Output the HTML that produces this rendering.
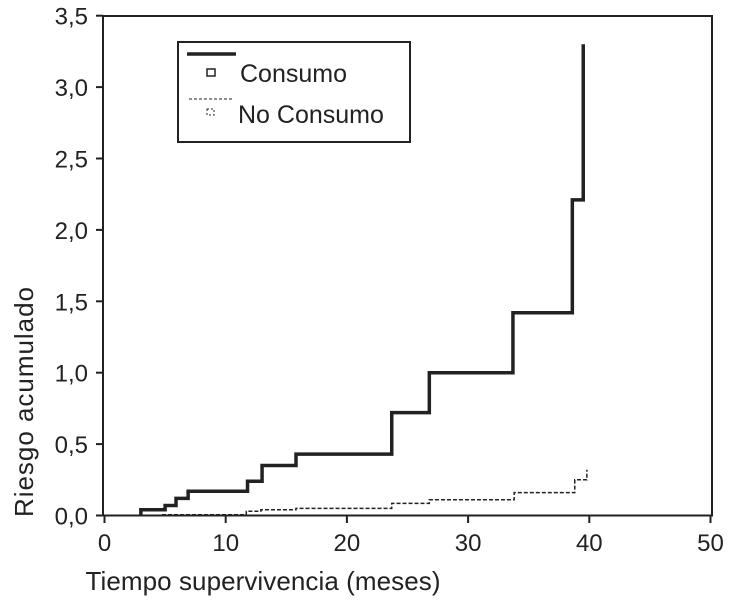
<!DOCTYPE html>
<html><head><meta charset="utf-8"><style>
body{margin:0;background:#fff;}
svg text{font-family:"Liberation Sans",sans-serif;fill:#222;}
</style></head><body>
<svg width="730" height="603">
<g id="axes"></g>
<g id="series"></g>
<g>
<rect x="178" y="42" width="232" height="100" fill="#fff" stroke="#222" stroke-width="2"/>
<line x1="187" y1="54" x2="236" y2="54" stroke="#222" stroke-width="3.5"/>
<rect x="207" y="69" width="8" height="7" fill="none" stroke="#222" stroke-width="1.5"/>
<text x="240" y="82" font-size="25">Consumo</text>
<line x1="189" y1="99" x2="234" y2="99" stroke="#222" stroke-width="1" stroke-dasharray="3,2"/>
<rect x="207" y="109" width="7" height="6" fill="none" stroke="#222" stroke-width="1" stroke-dasharray="2,2"/>
<text x="238" y="123" font-size="25">No Consumo</text>
</g>
<text x="263" y="590" font-size="26" text-anchor="middle" textLength="355">Tiempo supervivencia (meses)</text>
<text transform="translate(33,402) rotate(-90)" font-size="26" text-anchor="middle" textLength="230">Riesgo acumulado</text>
</svg>
<script>
const xTicks=[0,10,20,30,40,50];
const xTickLabels=["0","10","20","30","40","50"];
const yTicks=[0,0.5,1,1.5,2,2.5,3,3.5];
const yTickLabels=["0,0","0,5","1,0","1,5","2,0","2,5","3,0","3,5"];
const consumoTimes=[3,5,5.9,6.9,11.8,13,15.8,23.7,26.8,33.7,38.6,39.5];
const consumoRisk=[0.04,0.07,0.12,0.17,0.24,0.35,0.43,0.72,1.0,1.42,2.21,3.3];
const noConsumoTimes=[4.8,11.7,12.9,15.8,23.7,26.8,33.8,38.8,39.8];
const noConsumoRisk=[0.005,0.03,0.04,0.05,0.085,0.11,0.16,0.25,0.32];
const NS="http://www.w3.org/2000/svg";
const X=v=>104.5+v*12.12;
const Y=v=>515.5-v*142.8;
function mk(t,a,p){const e=document.createElementNS(NS,t);for(const k in a)e.setAttribute(k,a[k]);p.appendChild(e);return e;}
const ax=document.getElementById('axes');
const frame=mk('rect',{x:103,y:16,width:609,height:499.5,fill:'none',stroke:'#222','stroke-width':2},ax);


xTicks.forEach((v,i)=>{
 const t=mk('line',{x1:X(v),x2:X(v),y1:515,y2:523,stroke:'#222','stroke-width':2},ax);
 
 
 const l=mk('text',{x:X(v),y:551,'font-size':24,'text-anchor':'middle'},ax);l.textContent=xTickLabels[i];
 
 
});
yTicks.forEach((v,i)=>{
 const t=mk('line',{x1:96,x2:103,y1:Y(v),y2:Y(v),stroke:'#222','stroke-width':2},ax);
 
 
 const l=mk('text',{x:88,y:Y(v)+9,'font-size':24,'text-anchor':'end'},ax);l.textContent=yTickLabels[i];
 
 
});
function stepPath(ts,rs){let d=`M${X(ts[0])},${Y(0)}`;for(let i=0;i<ts.length;i++){d+=` L${X(ts[i])},${Y(rs[i])}`;if(i<ts.length-1)d+=` L${X(ts[i+1])},${Y(rs[i])}`;}return d;}
const sg=document.getElementById('series');
const p1=mk('path',{d:stepPath(consumoTimes,consumoRisk),fill:'none',stroke:'#222','stroke-width':3.5},sg);


const p2=mk('path',{d:stepPath(noConsumoTimes,noConsumoRisk),fill:'none',stroke:'#222','stroke-width':1.5,'stroke-dasharray':'4,2'},sg);


</script>
</body></html>
